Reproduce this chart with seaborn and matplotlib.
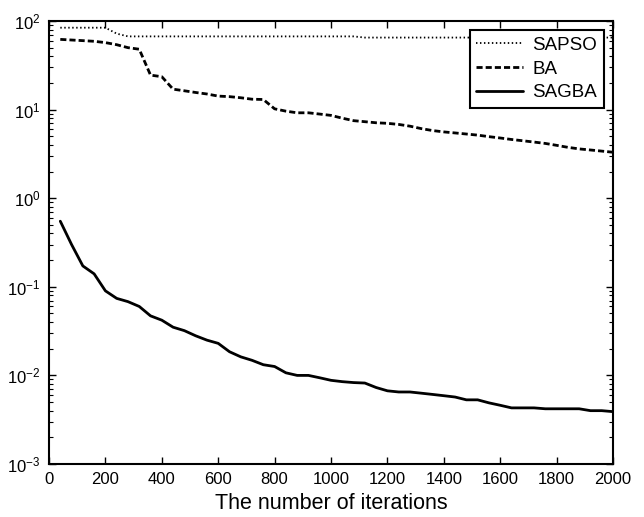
import matplotlib
matplotlib.use("Agg")
import matplotlib.pyplot as plt
import seaborn as sns
import pandas as pd
import numpy as np
from matplotlib.ticker import LogLocator, NullFormatter

# Iteration checkpoints
iterations = [40, 80, 120, 160, 200, 240, 280, 320, 360, 400,
              440, 480, 520, 560, 600, 640, 680, 720, 760, 800,
              840, 880, 920, 960, 1000, 1040, 1080, 1120, 1160, 1200,
              1240, 1280, 1320, 1360, 1400, 1440, 1480, 1520, 1560, 1600,
              1640, 1680, 1720, 1760, 1800, 1840, 1880, 1920, 1960, 2000]

# Best fitness per algorithm
sapso = [84, 84, 84, 84, 84, 72, 67, 67, 67, 67,
         67, 67, 67, 67, 67, 67, 67, 67, 67, 67,
         67, 67, 67, 67, 67, 67, 67, 65, 65, 65,
         65, 65, 65, 65, 65, 65, 65, 65, 65, 65,
         65, 65, 65, 65, 65, 65, 65, 65, 65, 65]

ba = [62, 61, 60, 59, 57, 54, 50, 48, 24.5, 23.5,
      17, 16.3, 15.6, 15.0, 14.2, 14.0, 13.6, 13.1, 13.0, 10.2,
      9.6, 9.2, 9.2, 8.9, 8.6, 8.0, 7.5, 7.3, 7.1, 7.0,
      6.8, 6.5, 6.1, 5.8, 5.6, 5.45, 5.3, 5.15, 4.95, 4.78,
      4.6, 4.45, 4.3, 4.15, 3.95, 3.75, 3.6, 3.5, 3.4, 3.3]

sagba = [0.55, 0.30, 0.172, 0.14, 0.09, 0.074, 0.068, 0.06, 0.047, 0.042,
         0.035, 0.032, 0.028, 0.025, 0.023, 0.0185, 0.0162, 0.0148, 0.0132, 0.0126,
         0.0107, 0.0100, 0.0100, 0.0094, 0.0088, 0.0085, 0.0083, 0.0082, 0.0073, 0.0067,
         0.0065, 0.0065, 0.0063, 0.0061, 0.0059, 0.0057, 0.0053, 0.0053, 0.0049, 0.0046,
         0.0043, 0.0043, 0.0043, 0.0042, 0.0042, 0.0042, 0.0042, 0.0040, 0.0040, 0.0039]

series_names = ["SAPSO", "BA", "SAGBA"]
x_label = "The number of iterations"

sns.set_style("ticks")
plt.rcParams["font.family"] = ["Liberation Sans", "DejaVu Sans"]
plt.rcParams["mathtext.fontset"] = "custom"
plt.rcParams["mathtext.rm"] = "Liberation Sans"
plt.rcParams["mathtext.it"] = "Liberation Sans:italic"
plt.rcParams["text.color"] = "black"
plt.rcParams["axes.labelcolor"] = "black"
plt.rcParams["xtick.color"] = "black"
plt.rcParams["ytick.color"] = "black"

df = pd.DataFrame({
    "iteration": iterations * 3,
    "value": sapso + ba + sagba,
    "algorithm": [series_names[0]] * len(iterations)
                 + [series_names[1]] * len(iterations)
                 + [series_names[2]] * len(iterations),
})

fig = plt.figure(figsize=(6.44, 5.17), dpi=100)
ax = fig.add_axes([0.0761, 0.1025, 0.8758, 0.8569])

styles = {
    "SAPSO": dict(ls=(0, (0.8, 1.4)), lw=1.3),
    "BA": dict(ls=(0, (2.2, 1.1)), lw=2.0),
    "SAGBA": dict(ls="-", lw=2.0),
}
for name in series_names:
    sub = df[df["algorithm"] == name]
    sns.lineplot(data=sub, x="iteration", y="value", ax=ax, color="black",
                 label=name, linestyle=styles[name]["ls"],
                 linewidth=styles[name]["lw"], estimator=None)

ax.set_yscale("log")
ax.set_xlim(0, 2000)
ax.set_ylim(1e-3, 1e2)
ax.set_xticks(np.arange(0, 2001, 200))
ax.yaxis.set_major_locator(LogLocator(base=10, numticks=10))
ax.yaxis.set_minor_locator(LogLocator(base=10, subs=np.arange(2, 10), numticks=20))
ax.yaxis.set_minor_formatter(NullFormatter())

ax.tick_params(axis="both", which="both", direction="in", top=True, right=True,
               labelsize=12, colors="black")
ax.tick_params(axis="both", which="major", length=5, width=1.0, pad=6)
ax.tick_params(axis="y", which="minor", length=3, width=0.8)
ax.tick_params(axis="x", which="minor", bottom=False, top=False)

for sp in ax.spines.values():
    sp.set_visible(True)
    sp.set_linewidth(1.5)
    sp.set_color("black")

ax.set_xlabel(x_label, fontsize=15.5, labelpad=4, color="black")
ax.set_ylabel("")

leg = ax.legend(loc="upper right", fontsize=13.5, frameon=True, fancybox=False,
                handlelength=2.5, labelspacing=0.35, borderpad=0.35,
                handletextpad=0.5, borderaxespad=0.5)
leg.get_frame().set_edgecolor("black")
leg.get_frame().set_linewidth(1.5)
leg.get_frame().set_alpha(1)
for t in leg.get_texts():
    t.set_color("black")

fig.savefig("out.png", dpi=100)
